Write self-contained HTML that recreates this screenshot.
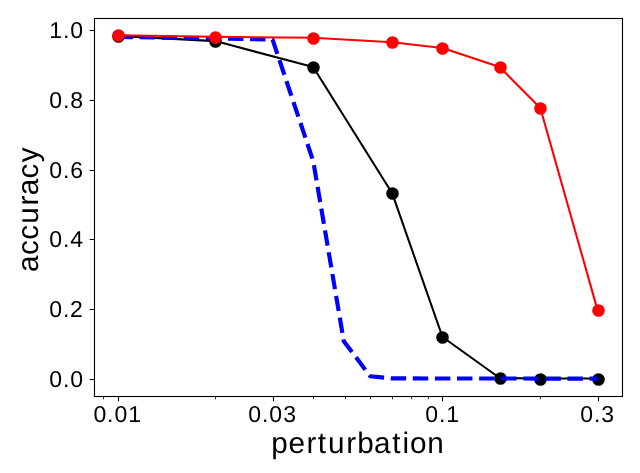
<!DOCTYPE html>
<html>
<head>
<meta charset="utf-8">
<title>accuracy vs perturbation</title>
<style>
html,body{margin:0;padding:0;background:#fff;}
body{width:640px;height:473px;overflow:hidden;}
svg{display:block;will-change:transform;}
text{font-family:"Liberation Sans",sans-serif;fill:#000;text-rendering:geometricPrecision;}
</style>
</head>
<body>
<svg width="640" height="473" viewBox="0 0 640 473">
<rect x="0" y="0" width="640" height="473" fill="#ffffff"/>

<!-- black series -->
<polyline points="117.5,36.0 215.33,41.1 313.17,67.0 392.16,193.2 442.5,337.0 499.73,378.0 540.33,378.5 597.56,378.55" fill="none" stroke="#000" stroke-width="2.08" stroke-linejoin="round"/>
<g fill="#000">
<circle cx="118.5" cy="36.5" r="6.27"/>
<circle cx="215.5" cy="41.5" r="6.27"/>
<circle cx="313.5" cy="67.5" r="6.27"/>
<circle cx="392.5" cy="193.5" r="6.27"/>
<circle cx="442.5" cy="337.5" r="6.27"/>
<circle cx="500.5" cy="378.5" r="6.27"/>
<circle cx="540.5" cy="379.5" r="6.27"/>
<circle cx="598.5" cy="379.5" r="6.27"/>
</g>

<!-- blue dashed series -->
<polyline points="117.5,36.9 215.3,38.5 272.6,39.6 313.3,161.4 343.8,341.2 370.3,376.2 392.2,378.4 442.5,378.5 499.7,378.5 540.3,378.55 597.8,378.55" fill="none" stroke="#0000ff" stroke-width="4.17" stroke-dasharray="15.428 6.67" stroke-linejoin="round" stroke-linecap="butt"/>

<!-- red series -->
<polyline points="117.5,35.2 215.33,36.8 313.17,37.75 392.16,42.25 442.5,48.0 499.73,67.1 540.33,108.0 597.56,310.1" fill="none" stroke="#ff0000" stroke-width="2.08" stroke-linejoin="round"/>
<g fill="#ff0000">
<circle cx="118.5" cy="35.5" r="6.27"/>
<circle cx="215.5" cy="37.5" r="6.27"/>
<circle cx="313.5" cy="38.5" r="6.27"/>
<circle cx="392.5" cy="42.5" r="6.27"/>
<circle cx="442.5" cy="48.5" r="6.27"/>
<circle cx="500.5" cy="67.5" r="6.27"/>
<circle cx="540.5" cy="108.5" r="6.27"/>
<circle cx="598.5" cy="310.5" r="6.27"/>
</g>

<!-- spines -->
<rect x="94.5" y="18.5" width="528" height="378" fill="none" stroke="#000" stroke-width="1.11"/>

<!-- ticks -->
<g stroke="#000" stroke-width="1.11" fill="none">
<!-- y major -->
<path d="M94.5 30.5h-4.86 M94.5 100.5h-4.86 M94.5 170.5h-4.86 M94.5 239.5h-4.86 M94.5 309.5h-4.86 M94.5 379.5h-4.86"/>
<!-- x major -->
<path d="M118.5 396.5v4.86 M273.5 396.5v4.86 M442.5 396.5v4.86 M598.5 396.5v4.86"/>
</g>
<g stroke="#000" stroke-width="0.83" fill="none">
<!-- x minor -->
<path d="M103.5 396.5v2.78 M215.5 396.5v2.78 M313.5 396.5v2.78 M345.5 396.5v2.78 M370.5 396.5v2.78 M392.5 396.5v2.78 M411.5 396.5v2.78 M428.5 396.5v2.78 M540.5 396.5v2.78"/>
</g>

<!-- y tick labels -->
<g font-size="23.0">
<text x="49.20 62.98 70.32" y="37.9">1.0</text>
<text x="49.32 62.98 70.32" y="107.9">0.8</text>
<text x="49.32 62.98 70.32" y="177.9">0.6</text>
<text x="49.32 62.98 70.31" y="247.0">0.4</text>
<text x="49.32 62.98 70.02" y="317.0">0.2</text>
<text x="49.32 62.98 70.32" y="387.0">0.0</text>
</g>
<!-- x tick labels -->
<g font-size="23.0">
<text x="93.41 107.07 114.41 128.29" y="421.8">0.01</text>
<text x="248.31 261.97 269.31 283.34" y="421.8">0.03</text>
<text x="425.31 438.97 446.19" y="421.8">0.1</text>
<text x="580.31 593.97 601.34" y="421.8">0.3</text>
</g>
<!-- axis labels -->
<text font-size="29.7" x="271.13 288.38 306.41 317.79 327.92 346.33 357.19 374.05 392.37 402.59 409.98 427.33" y="452.6">perturbation</text>
<text font-size="29.7" transform="translate(37.9,271.9) rotate(-90)" x="-0.05 16.90 32.17 48.06 66.46 76.55 93.50 109.68" y="0">accuracy</text>
</svg>
</body>
</html>
